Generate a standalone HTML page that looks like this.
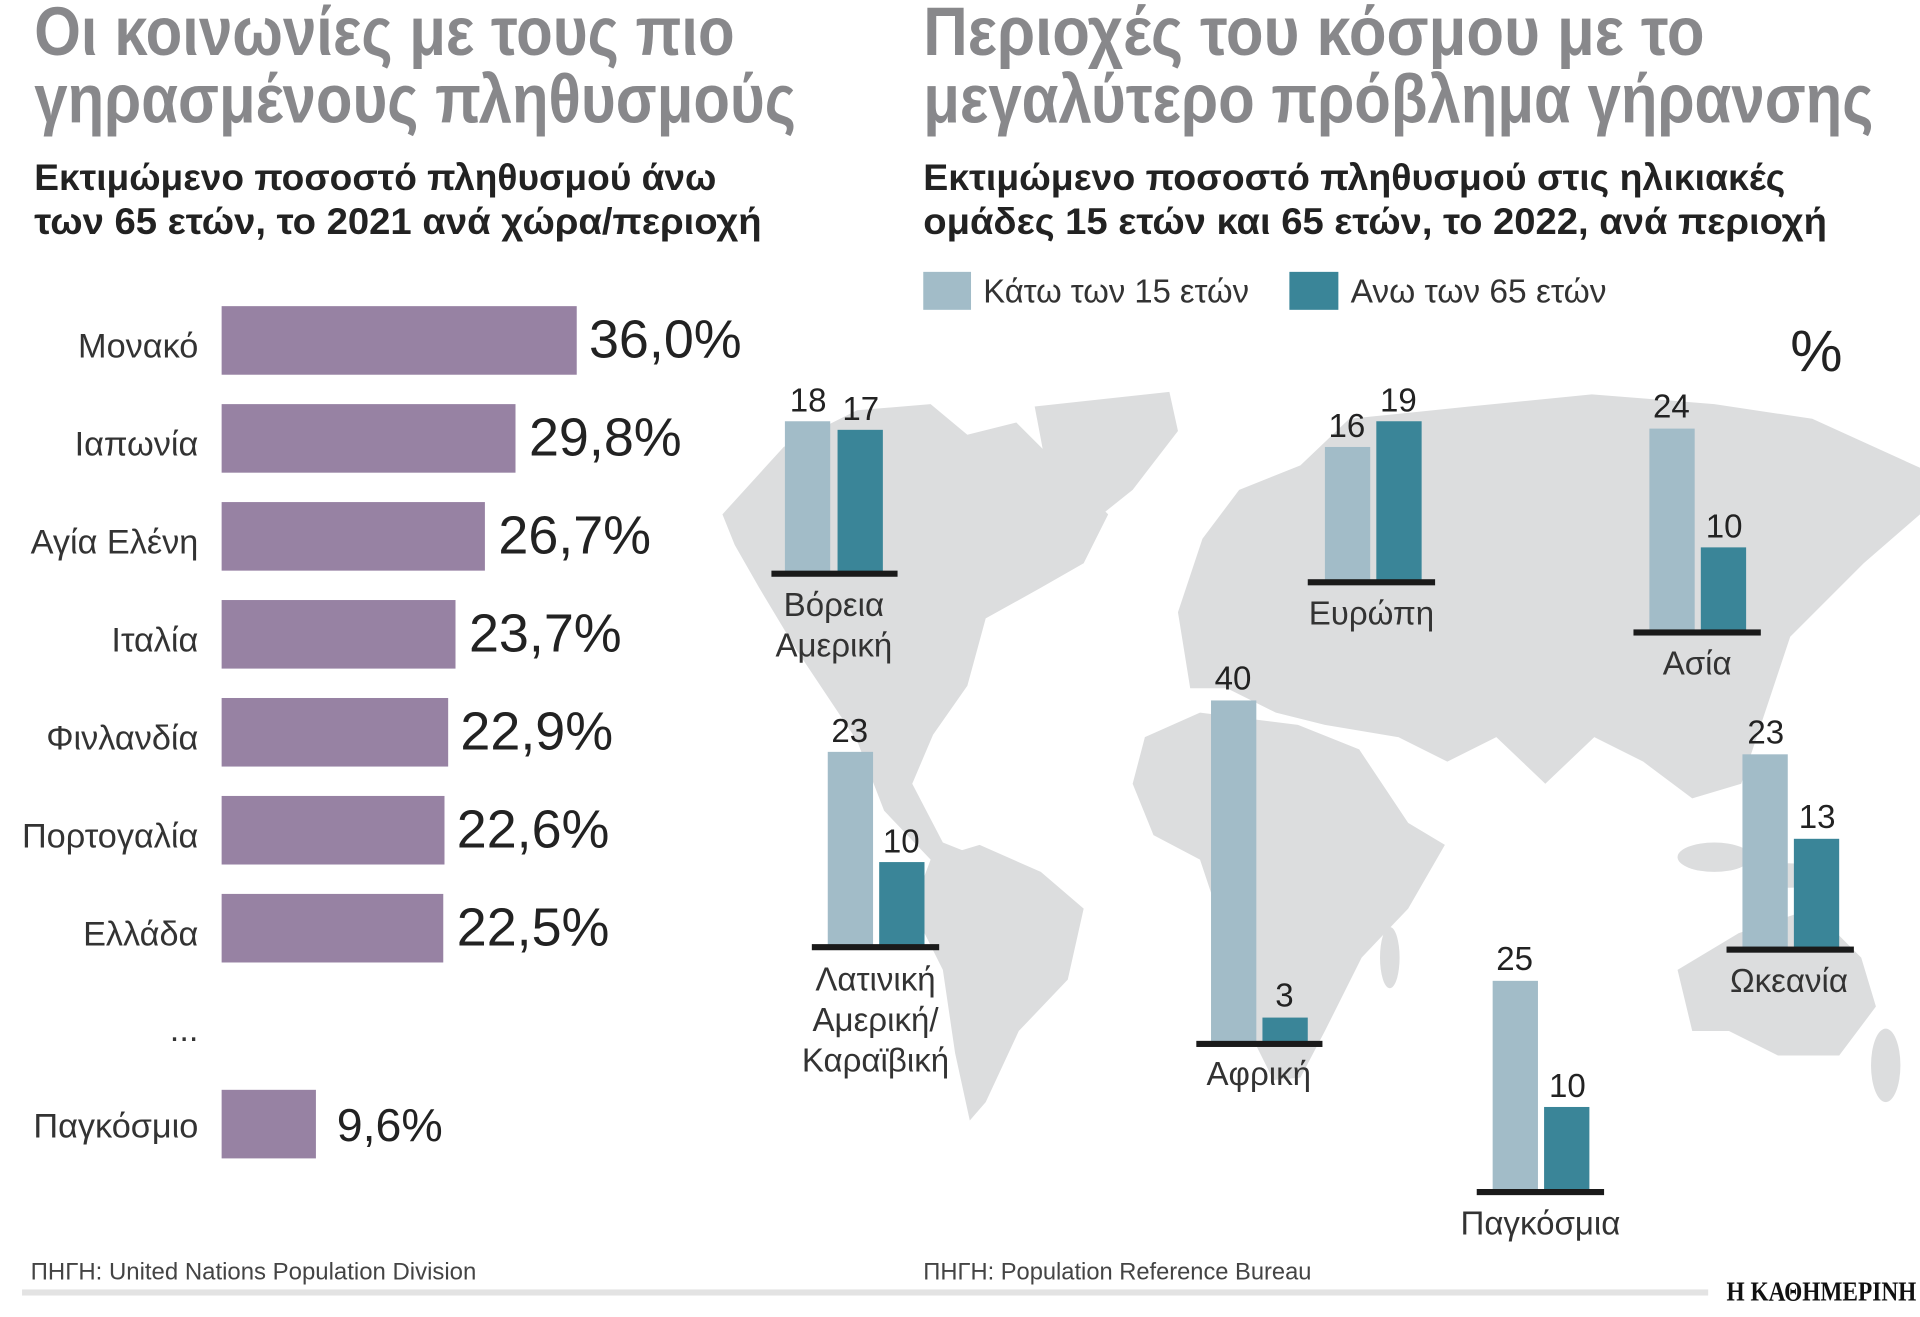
<!DOCTYPE html>
<html><head><meta charset="utf-8"><style>
html,body{margin:0;padding:0;background:#fff;}
svg{display:block;}
text{font-family:"Liberation Sans Narrow","Liberation Sans","DejaVu Sans Condensed",sans-serif;}
</style></head><body>
<svg width="1920" height="1317" viewBox="0 0 1568 1075.5" xmlns="http://www.w3.org/2000/svg">
<rect width="1568" height="1076" fill="#fff"/>
<!-- map -->
<g fill="#dcddde">
<path d="M590,420 L640,365 L700,335 L760,330 L790,355 L830,345 L870,385 L905,420 L885,460 L850,480 L805,505 L790,560 L762,600 L745,640 L770,688 L800,700 L790,718 L760,702 L722,662 L700,605 L650,530 L620,480 L600,445 Z"/>
<path d="M845,332 L955,320 L962,352 L925,400 L885,432 L855,385 Z"/>
<path d="M760,702 L800,690 L850,712 L885,742 L872,800 L832,842 L805,900 L792,915 L780,860 L770,792 L745,742 Z"/>
<path d="M962,500 L982,440 L1012,400 L1062,380 L1102,342 L1200,332 L1300,322 L1400,330 L1480,342 L1568,382 L1568,420 L1522,460 L1462,520 L1442,580 L1422,640 L1382,652 L1342,622 L1302,602 L1262,640 L1222,602 L1182,622 L1142,602 L1082,592 L1042,582 L1002,562 L972,562 Z"/>
<path d="M935,602 L980,582 L1060,592 L1110,612 L1150,672 L1180,690 L1150,742 L1112,782 L1082,842 L1062,880 L1040,882 L1020,842 L1000,762 L980,702 L942,682 L925,640 Z"/>
<path d="M1370,792 L1420,762 L1480,742 L1520,782 L1532,822 L1502,862 L1452,862 L1412,842 L1382,842 Z"/>
<ellipse cx="1135" cy="782" rx="8" ry="25"/>
<ellipse cx="1400" cy="700" rx="30" ry="12"/>
<ellipse cx="1460" cy="715" rx="28" ry="10"/>
<ellipse cx="1540" cy="870" rx="12" ry="30"/>
</g>
<!-- titles -->
<g fill="#88888b" font-weight="bold" font-size="56">
<text x="28" y="45" textLength="572" lengthAdjust="spacingAndGlyphs">Οι κοινωνίες με τους πιο</text>
<text x="28" y="100" textLength="622" lengthAdjust="spacingAndGlyphs">γηρασμένους πληθυσμούς</text>
<text x="754" y="45" textLength="638" lengthAdjust="spacingAndGlyphs">Περιοχές του κόσμου με το</text>
<text x="754" y="100" textLength="776" lengthAdjust="spacingAndGlyphs">μεγαλύτερο πρόβλημα γήρανσης</text>
</g>
<g fill="#222" font-weight="bold" font-size="30">
<text x="28" y="155" textLength="557" lengthAdjust="spacingAndGlyphs">Εκτιμώμενο ποσοστό πληθυσμού άνω</text>
<text x="28" y="191" textLength="594" lengthAdjust="spacingAndGlyphs">των 65 ετών, το 2021 ανά χώρα/περιοχή</text>
<text x="754" y="155" textLength="704" lengthAdjust="spacingAndGlyphs">Εκτιμώμενο ποσοστό πληθυσμού στις ηλικιακές</text>
<text x="754" y="191" textLength="738" lengthAdjust="spacingAndGlyphs">ομάδες 15 ετών και 65 ετών, το 2022, ανά περιοχή</text>
</g>
<!-- legend -->
<rect x="754" y="222" width="39" height="31" fill="#a2bcc8"/>
<text x="803" y="247" font-size="27" fill="#333" textLength="217" lengthAdjust="spacingAndGlyphs">Κάτω των 15 ετών</text>
<rect x="1053" y="222" width="40" height="31" fill="#3a8598"/>
<text x="1103" y="247" font-size="27" fill="#333" textLength="209" lengthAdjust="spacingAndGlyphs">Ανω των 65 ετών</text>
<text x="1462" y="303" font-size="48" fill="#222">%</text>
<!-- left bars -->
<g fill="#9782a3">
<rect x="181" y="250" width="290" height="56"/>
<rect x="181" y="330" width="240" height="56"/>
<rect x="181" y="410" width="215" height="56"/>
<rect x="181" y="490" width="191" height="56"/>
<rect x="181" y="570" width="185" height="56"/>
<rect x="181" y="650" width="182" height="56"/>
<rect x="181" y="730" width="181" height="56"/>
<rect x="181" y="890" width="77" height="56"/>
</g>
<g fill="#333" font-size="28" text-anchor="end">
<text x="162" y="292">Μονακό</text>
<text x="162" y="372">Ιαπωνία</text>
<text x="162" y="452">Αγία Ελένη</text>
<text x="162" y="532">Ιταλία</text>
<text x="162" y="612">Φινλανδία</text>
<text x="162" y="692">Πορτογαλία</text>
<text x="162" y="772">Ελλάδα</text>
<text x="162" y="850">...</text>
<text x="162" y="929">Παγκόσμιο</text>
</g>
<g fill="#222" font-size="44">
<text x="481" y="292">36,0%</text>
<text x="432" y="372">29,8%</text>
<text x="407" y="452">26,7%</text>
<text x="383" y="532">23,7%</text>
<text x="376" y="612">22,9%</text>
<text x="373" y="692">22,6%</text>
<text x="373" y="772">22,5%</text>
<text x="275" y="932" font-size="38">9,6%</text>
</g>
<!-- right bar groups -->
<g font-size="27" fill="#222" text-anchor="middle">
<!-- N America -->
<rect x="641" y="344" width="37" height="124" fill="#a2bcc8"/>
<rect x="684" y="351" width="37" height="117" fill="#3a8598"/>
<rect x="630" y="466" width="103" height="5" fill="#1a1a1a"/>
<text x="660" y="336">18</text><text x="703" y="343">17</text>
<text x="681" y="503" fill="#333">Βόρεια</text><text x="681" y="536" fill="#333">Αμερική</text>
<!-- Europe -->
<rect x="1082" y="365" width="37" height="110" fill="#a2bcc8"/>
<rect x="1124" y="344" width="37" height="131" fill="#3a8598"/>
<rect x="1068" y="473" width="104" height="5" fill="#1a1a1a"/>
<text x="1100" y="357">16</text><text x="1142" y="336">19</text>
<text x="1120" y="510" fill="#333">Ευρώπη</text>
<!-- Asia -->
<rect x="1347" y="350" width="37" height="166" fill="#a2bcc8"/>
<rect x="1389" y="447" width="37" height="69" fill="#3a8598"/>
<rect x="1334" y="514" width="104" height="5" fill="#1a1a1a"/>
<text x="1365" y="341">24</text><text x="1408" y="439">10</text>
<text x="1386" y="551" fill="#333">Ασία</text>
<!-- Latin America -->
<rect x="676" y="614" width="37" height="159" fill="#a2bcc8"/>
<rect x="718" y="704" width="37" height="69" fill="#3a8598"/>
<rect x="663" y="771" width="104" height="5" fill="#1a1a1a"/>
<text x="694" y="606">23</text><text x="736" y="696">10</text>
<text x="715" y="809" fill="#333">Λατινική</text><text x="715" y="842" fill="#333">Αμερική/</text><text x="715" y="875" fill="#333">Καραϊβική</text>
<!-- Africa -->
<rect x="989" y="572" width="37" height="280" fill="#a2bcc8"/>
<rect x="1031" y="831" width="37" height="21" fill="#3a8598"/>
<rect x="977" y="850" width="103" height="5" fill="#1a1a1a"/>
<text x="1007" y="563">40</text><text x="1049" y="822">3</text>
<text x="1028" y="886" fill="#333">Αφρική</text>
<!-- Oceania -->
<rect x="1423" y="616" width="37" height="159" fill="#a2bcc8"/>
<rect x="1465" y="685" width="37" height="90" fill="#3a8598"/>
<rect x="1410" y="773" width="104" height="5" fill="#1a1a1a"/>
<text x="1442" y="607">23</text><text x="1484" y="676">13</text>
<text x="1461" y="810" fill="#333">Ωκεανία</text>
<!-- World -->
<rect x="1219" y="801" width="37" height="172" fill="#a2bcc8"/>
<rect x="1261" y="904" width="37" height="69" fill="#3a8598"/>
<rect x="1206" y="971" width="104" height="5" fill="#1a1a1a"/>
<text x="1237" y="792">25</text><text x="1280" y="896">10</text>
<text x="1258" y="1008" fill="#333">Παγκόσμια</text>
</g>
<!-- footer -->
<text x="25" y="1045" font-size="20" fill="#444" textLength="364" lengthAdjust="spacingAndGlyphs">ΠΗΓΗ: United Nations Population Division</text>
<text x="754" y="1045" font-size="20" fill="#444" textLength="317" lengthAdjust="spacingAndGlyphs">ΠΗΓΗ: Population Reference Bureau</text>
<rect x="18" y="1053" width="1377" height="5" fill="#e3e3e3"/>
<text x="1410" y="1062" font-size="22" font-weight="bold" fill="#111" font-family="Liberation Serif, serif" textLength="155" lengthAdjust="spacingAndGlyphs" style="font-family:'Liberation Serif',serif">Η ΚΑΘΗΜΕΡΙΝΗ</text>
</svg>
</body></html>
